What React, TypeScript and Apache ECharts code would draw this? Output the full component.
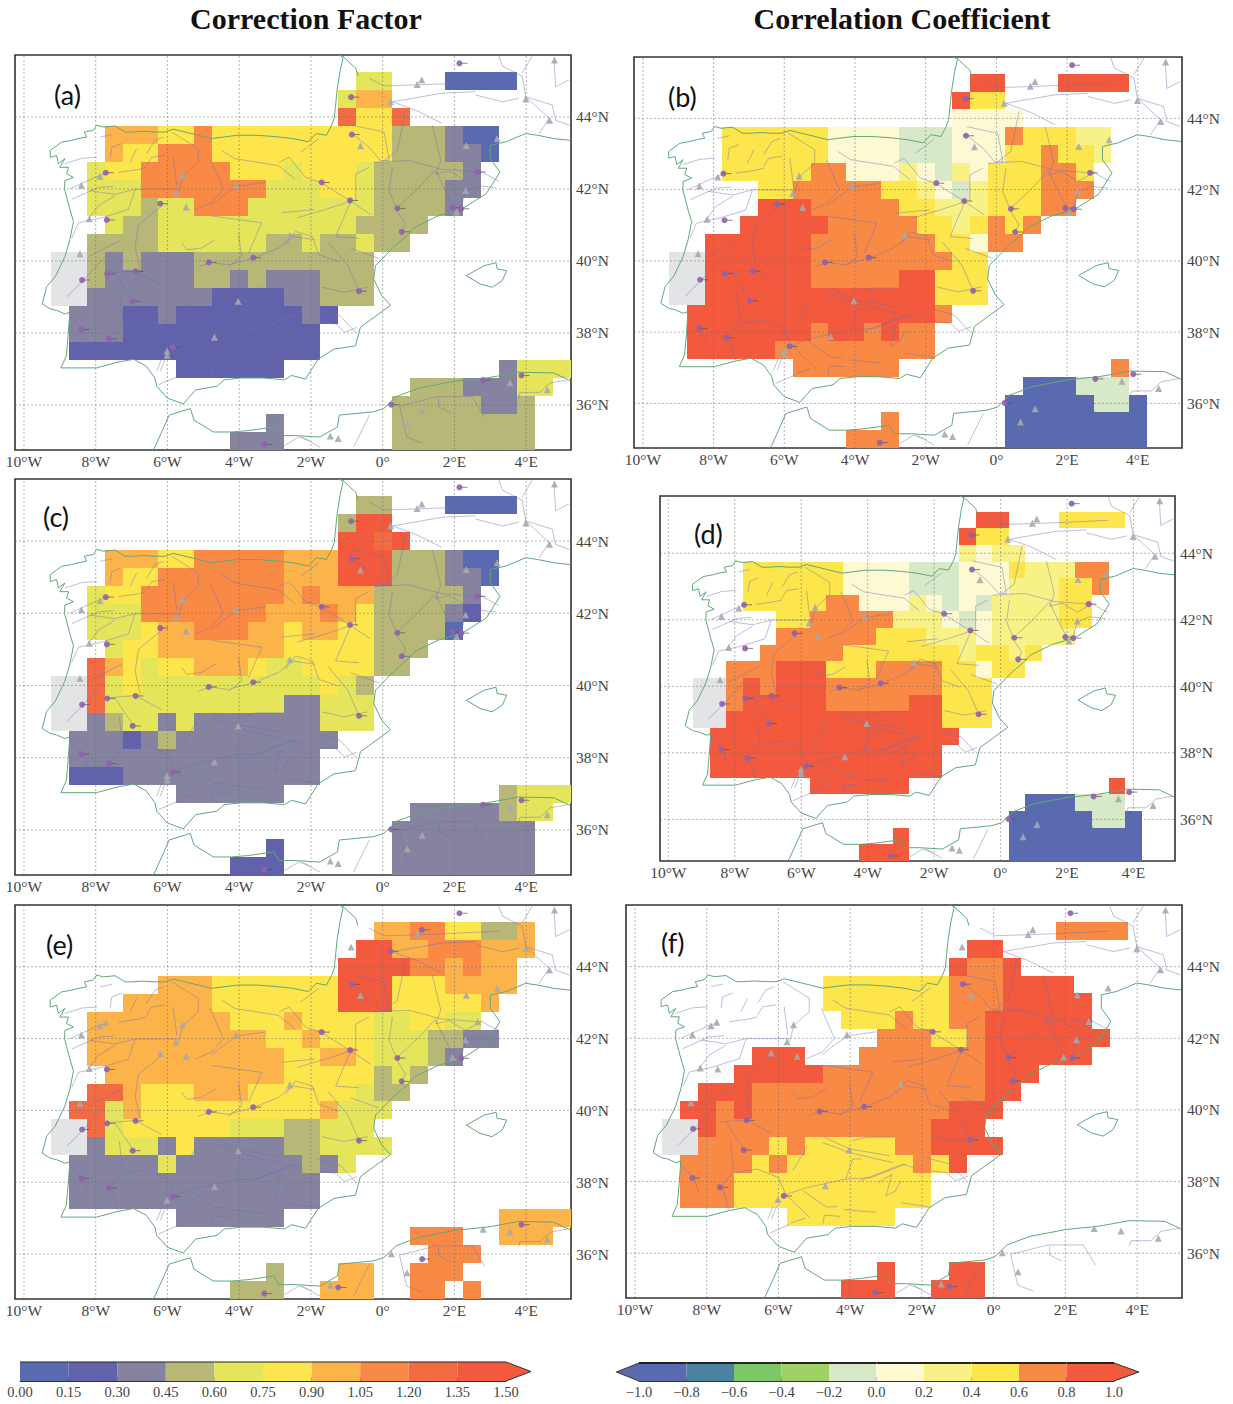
import React, { useEffect, useRef } from "react";
import * as echarts from "echarts";

const TITLES = ["Correction Factor", "Correlation Coefficient"];
const LON_TICKS = [-10, -8, -6, -4, -2, 0, 2, 4];
const LAT_TICKS = [36, 38, 40, 42, 44];

const FACTOR_COLORS = ["#5a6ab0", "#6261ac", "#85839f", "#b7b878", "#e5e55c", "#fde54c", "#fcb44a", "#f98a45", "#f36b42", "#f3593c"];
const CORR_COLORS = ["#5a6ab0", "#4a83a0", "#7ec768", "#a0d166", "#d8e9c9", "#fdf9d3", "#f8f286", "#fde54c", "#f98a45", "#f3593c"];
const MISSING_COLOR = "#e2e4e6";

const FACTOR_TICKS = [0, 0.15, 0.3, 0.45, 0.6, 0.75, 0.9, 1.05, 1.2, 1.35, 1.5];
const CORR_TICKS = [-1, -0.8, -0.6, -0.4, -0.2, 0, 0.2, 0.4, 0.6, 0.8, 1];

// Rows run from 45N to 35N by 0.5 degrees; columns count from 9W by 0.5 degrees: "columns:colour class".
const panelA = [
  "17-18:4 22-25:0", "16:4 17-18:6", "16:8 17-18:5 19:8",
  "3-5:6 6-7:5 8:7 9-18:5 19-21:3 22:2 23-24:0",
  "3:6 4-5:5 6-8:7 9-18:5 19-21:3 22-23:2 24:0",
  "2:4 3-4:5 5-9:7 10-12:5 13:4 14-16:5 17:4 18-22:3 23:2",
  "2-4:4 5-11:7 12-14:4 15-16:5 17:4 18-21:3 22-23:2",
  "2-4:4 5:3 6-7:4 8-10:7 11-17:4 18-21:3 22:2",
  "3:4 4-5:3 6-16:4 17-20:3",
  "2-5:3 6-11:4 12-13:3 14:4 15-16:3 17:4 18-19:3",
  "0-1:g 2:3 3:2 4:3 5-7:2 8-17:3",
  "0-1:g 2:3 3-7:2 8-9:3 10:2 11:3 12-14:2 15-17:3",
  "0-1:g 2-8:2 9-12:1 13-14:2 15-17:3",
  "1-3:2 4-5:1 6:2 7-13:1 14:2 15:1",
  "1-3:2 4-14:1", "1-14:1", "7-12:1 25:2 26-28:4",
  "20-22:3 23-25:2 26-27:4", "19-23:3 24-25:2 26:3", "12:2 19-26:3", "10-12:2 19-26:3",
];
const panelB = [
  "17-18:9 22-25:9", "16:9 17-18:7", "16-19:5",
  "3-8:7 9-12:5 13-15:4 16-18:5 19:8 20-22:7 23-24:6",
  "3-8:7 9-12:5 13-15:4 16-18:5 19-20:7 21:8 22-23:7 24:6",
  "3-7:7 8-9:8 10-12:5 13:6 14:5 15:4 16:6 17:5 18-20:7 21-22:8 23:7",
  "5-6:7 7-11:8 12-13:7 14:6 15:5 16:4 17:6 18-20:7 21-23:8",
  "5-7:9 8-12:8 13-14:7 15-17:6 18-20:7 21-22:8",
  "4-8:9 9-13:8 14-15:7 16:6 17:7 18:8 19:7 20:8",
  "2-7:9 8-14:8 15-16:7 17:5 18-19:8",
  "0-1:g 2-7:9 8-15:8 16-17:7",
  "0-1:g 2-7:9 8-12:8 13-14:9 15-17:7",
  "0-1:g 2-14:9 15-17:7",
  "1-14:9 15:8",
  "1-7:9 8:8 9-10:9 11:8 12:9 13-14:8",
  "1-5:9 6-14:8", "7-12:8 25:8",
  "20-22:0 23-25:4", "19-23:0 24-25:4 26:0", "12:8 19-26:0", "10-12:8 19-26:0",
];
const panelC = [
  "17-18:3 22-25:0", "16:3 17-18:9", "16-17:9 18:8 19:9",
  "3-5:6 6-7:5 8-12:7 13-15:6 16-18:9 19-21:3 22:2 23-24:0",
  "3:6 4-5:5 6-12:7 13-15:6 16-18:9 19-21:3 22-23:2 24:0",
  "2:4 3-4:5 5-12:7 13:6 14:7 15-17:6 18-22:3 23:2",
  "2-4:4 5-11:7 12-14:6 15:7 16:6 17:5 18-21:3 22:2 23:1",
  "2-4:4 5:5 6-7:6 8-10:7 11-12:6 13:5 14-15:6 16-17:5 18-21:3 22:0",
  "3:4 4-5:5 6-12:6 13-17:5 18-20:3",
  "2:8 3:6 4:5 5:4 6-7:5 8-10:6 11:5 12-13:4 14-17:5 18-19:3",
  "0-1:g 2:8 3:4 4:5 5-14:4 15:5 16:4 17:3",
  "0-1:g 2:8 3-12:4 13-14:2 15-17:4",
  "0-1:g 2:2 3:3 4-5:4 6:2 7:4 8-14:2 15-17:4",
  "1-3:2 4:1 5:2 6:3 7-15:2",
  "1-14:2", "1-3:1 4-14:2", "7-12:2 25:3 26-28:4",
  "20-24:2 25:3 26-27:4", "19-26:2", "12:1 19-26:2", "10-12:1 19-26:2",
];
const panelD = [
  "17-18:9 22-25:7", "16:9 17-18:7", "16:6 17:5 18-19:6",
  "3-8:7 9-12:5 13-15:4 16-18:5 19:7 20-22:6 23-24:8",
  "3-8:7 9-12:5 13-15:4 16-18:5 19-21:6 22-23:7 24:8",
  "3-7:7 8-9:8 10-12:5 13:6 14:5 15:4 16:5 17:4 18-21:6 22-23:7",
  "5-6:7 7-11:8 12-14:6 15:5 16:4 17:5 18-21:6 22-23:7",
  "5-10:8 11-13:7 14-16:6 17:5 18-22:6",
  "4-8:8 9-15:7 16:6 17-18:7 19:6 20:7",
  "2-4:8 5-7:9 8-10:7 11-14:8 15-16:7 17:5 18-19:7",
  "0-1:g 2:8 3:9 4:8 5-7:9 8-14:8 15-17:7",
  "0-1:g 2:8 3-7:9 8-12:8 13-14:9 15-17:7",
  "0-1:g 2-14:9 15-17:7",
  "1-15:9", "1-14:9", "1-14:9", "7-12:9 25:9",
  "20-22:0 23-25:4", "19-23:0 24-25:4 26:0", "12:9 19-26:0", "10-12:9 19-26:0",
];
const panelE = [
  "18-19:6 20-21:7 22-23:5 24-25:3 26:6",
  "17-18:9 19-20:6 21-23:7 24-26:6",
  "16-19:9 20-21:7 22:6 23:7 24-25:6",
  "6-8:6 9-15:5 16-18:9 19-21:5 22-25:6",
  "4-8:6 9-15:5 16-18:9 19-23:5 24:6",
  "2-9:6 10-12:5 13:6 14-17:5 18-19:4 20-21:5 22-23:4",
  "2-11:6 12-13:5 14:6 15-17:5 18-20:4 21-22:3 23-24:2",
  "2-12:6 13-14:5 15-16:6 17:5 18-20:4 21:3 22:2",
  "3-12:6 13-17:5 18:3 19:4 20:3",
  "2-3:8 4:6 5-7:5 8-10:6 11-16:5 17:4 18-19:3",
  "1-2:8 3:4 4:6 5-14:5 15:6 16-18:4",
  "0-1:g 2:8 3:4 4-9:5 10-12:4 13-14:3 15-17:4",
  "0-1:g 2:2 3-5:4 6:2 7:5 8-12:2 13-14:3 15-18:4",
  "1-5:2 6:4 7-13:2 14:3 15:2 16:4",
  "1-14:2", "1-14:2", "7-12:2 25-28:6",
  "20-22:7 25-27:6", "21-23:7", "12:3 16-17:6 20-22:7", "10-12:3 15-17:6 20-21:7 23:7",
];
const panelF = [
  "22-25:8", "17-18:9", "16:9 17-18:8 19:9",
  "9-15:7 16-18:8 19-22:9",
  "9-15:7 16-18:8 19-23:9",
  "10-12:7 13:8 14-15:7 16-17:8 18-23:9",
  "12-14:8 15-16:7 17:8 18-24:9",
  "5-7:9 11-17:8 18-23:9",
  "4-8:9 9-17:8 18-20:9",
  "2-4:9 5-17:8 18-19:9",
  "1-2:9 3:8 4:9 5-15:8 16-18:9",
  "0-1:g 2:9 3-14:8 15-17:9",
  "0-1:g 2-5:8 6:7 7:8 8-12:7 13-14:8 15-18:9",
  "1-4:8 5:7 6:8 7-13:7 14:8 15:7 16:9",
  "1-3:8 4-14:7", "1-3:8 4-14:7", "7-12:7", "", "", "12:9 16-17:9", "10-12:9 15-17:9",
];

const coastIberia = [
  [-1.24,45.72],[-1.1,45.67],[-1.19,45.26],[-1.27,44.75],[-1.35,43.96],[-1.43,43.75],[-1.57,43.49],[-1.85,43.54],[-2.07,43.31],[-2.51,43.4],[-2.95,43.45],[-3.5,43.49],[-4.05,43.49],[-4.77,43.4],[-5.42,43.56],[-5.84,43.66],[-6.07,43.58],[-6.35,43.58],[-6.67,43.6],[-7,43.58],[-7.18,43.58],[-7.46,43.75],[-7.79,43.72],[-7.97,43.77],[-8.07,43.63],[-8.32,43.58],[-8.25,43.44],[-8.48,43.4],[-8.67,43.35],[-8.95,43.3],[-9.27,43.07],[-9.27,42.88],[-9.09,42.93],[-9.04,42.7],[-8.86,42.84],[-9,42.6],[-8.76,42.6],[-8.81,42.42],[-8.62,42.32],[-8.86,42.23],[-8.87,42],[-8.72,41.43],[-8.62,41.1],[-8.72,40.59],[-8.86,40.12],[-9.13,39.56],[-9.37,39.28],[-9.49,38.81],[-9.27,38.67],[-9.09,38.63],[-8.86,38.53],[-8.72,38.58],[-8.77,37.92],[-8.82,37.36],[-8.97,37.03],[-7.98,37.03],[-7.38,37.19],[-6.94,37.27],[-6.59,37.08],[-6.35,36.75],[-6.3,36.52],[-6,36.19],[-5.56,36.03],[-5.21,36.42],[-4.62,36.52],[-4.42,36.7],[-3.93,36.75],[-3.33,36.75],[-2.74,36.7],[-2.54,36.82],[-2.15,36.72],[-1.8,37.27],[-1.36,37.55],[-0.76,37.64],[-0.62,38.16],[0.22,38.77],[-0.03,39.04],[-0.25,39.5],[-0.2,39.87],[0.35,40.43],[0.68,40.71],[0.9,40.94],[1.56,41.26],[2.22,41.45],[2.89,41.87],[3.27,42.47],[3,42.84],[3,43.21],[3.44,43.31],[3.99,43.54],[4.32,43.49],[4.76,43.4],[5.22,43.35],
];
const coastGironde = [[-1.1,45.67],[-0.75,45.35],[-0.69,45.15]];
const coastAfrica = [
  [-6.42,34.75],[-6.35,34.83],[-5.95,35.72],[-5.36,35.9],[-5.26,35.58],[-4.72,35.25],[-4.22,35.25],[-3.73,35.29],[-3.04,35.39],[-2.89,35.15],[-2.44,35.15],[-1.75,35.11],[-1.26,35.39],[-1.21,35.72],[-0.27,35.81],[0.03,35.9],[0.37,36.23],[1.01,36.47],[2,36.66],[2.89,36.75],[3.19,36.8],[3.78,36.91],[4.77,36.89],[5.22,36.68],
];
const coastMallorca = [[2.33,39.59],[2.83,39.87],[3.16,39.95],[3.19,39.78],[3.46,39.73],[3.33,39.45],[3.05,39.27],[2.72,39.36],[2.33,39.59]];

const rivers = [
  [[-8.86,42.7],[-8.39,42.85],[-7.97,42.88]],
  [[-7.88,43.44],[-7.55,43.51]],
  [[-7.6,42.84],[-7.55,43.16],[-7.28,43.26]],
  [[-7.04,42.74],[-6.86,43.12]],
  [[-6.58,42.98],[-6.35,43.35],[-6.11,43.44]],
  [[-6.58,42.65],[-6.44,42.88],[-6.07,42.93]],
  [[-7.37,42.46],[-6.81,42.54],[-6.58,42.6]],
  [[-8.72,42],[-8.02,42.32],[-7.69,42.44]],
  [[-8.67,41.71],[-7.93,42.04],[-7.51,42.07]],
  [[-8.16,41.95],[-7.46,41.85],[-6.9,41.99],[-5.7,41.99]],
  [[-5.88,43.58],[-5.14,43.12],[-5.14,42.74],[-5.56,42.37],[-5.7,41.9]],
  [[-5.84,42.88],[-5.74,42.09]],
  [[-4.81,42.84],[-4.44,42],[-4.77,41.62],[-5.23,41.43]],
  [[-3.28,42.18],[-4.07,42.07],[-4.58,41.71],[-4.77,41.54]],
  [[-8.67,40.64],[-8.48,41.06],[-7.83,41.2],[-7.09,41.43],[-6.9,41.99]],
  [[-8.25,41.1],[-7.93,41.53],[-7.46,41.81]],
  [[-6.16,41.53],[-6.81,41],[-6.9,40.4],[-6.76,39.75]],
  [[-8.2,40.12],[-7.28,40.59]],
  [[-8.81,39],[-8.34,39.47],[-7.74,40.12]],
  [[-7.65,39.66],[-6.9,39.72]],
  [[-7.46,39.66],[-7.18,39.23],[-6.95,38.9]],
  [[-6.9,39.72],[-6.16,39.33]],
  [[-5.6,40.5],[-5.46,40.31],[-5.05,40.36],[-4.67,40.59]],
  [[-4.02,40.78],[-3.93,40.12],[-4.3,39.84]],
  [[-5.14,39.84],[-4.81,39.96],[-4.3,39.89],[-3.6,40.08],[-2.9,40.36],[-2.54,40.68],[-1.89,40.59]],
  [[-4.77,41.25],[-3.37,41.06],[-3.74,40.22]],
  [[-2.82,41.34],[-1.89,41.43]],
  [[-4.49,43.07],[-4.12,42.84],[-2.91,42.65],[-2.44,42.27]],
  [[-4.77,39.09],[-4.02,38.81],[-2.82,38.53]],
  [[-0.38,45.08],[0.04,44.86],[1.76,44.92],[3.24,44.99]],
  [[0.27,44.42],[0.92,44.19],[1.66,43.82]],
  [[2.59,44.61],[3.34,44.42],[3.8,44.52]],
  [[0.27,44.42],[1.66,44.66],[2.59,44.7]],
  [[3.24,45.69],[3.34,45.41],[3.89,45.13],[3.99,44.56],[4.73,44.33],[4.82,43.91],[5.2,43.77]],
  [[4.17,45.69],[3.89,45.22]],
  [[4.78,45.59],[4.82,44.84],[5.2,45.03]],
  [[3.99,44.56],[4.64,43.96],[4.36,43.53]],
  [[0.64,44.19],[0.41,43.07],[0.04,42.79]],
  [[1.38,43.77],[1.62,42.79],[1.48,42.41],[1.85,42.5],[2.31,42.23],[2.78,42.5]],
  [[-0.24,42.74],[0.73,42.79],[1.62,42.55],[2.78,42.46],[3.24,42.22]],
  [[0.36,41.52],[0.18,41.94],[0.27,42.6]],
  [[0.41,41.48],[1.01,42.04],[1.48,42.55]],
  [[1.99,41.48],[1.48,42.5]],
  [[2.17,41.43],[2.31,41.94],[2.68,42.09],[3.15,42.04]],
  [[0.41,41.38],[0.64,41.01],[0.5,40.78]],
  [[-0.85,43.53],[-0.38,43.16],[-0.06,42.79],[0.18,42.79],[0.04,43.58],[-0.85,43.77]],
  [[-2.29,43.02],[-1.78,43.4]],
  [[-2.89,42.74],[-2.61,42.88],[-2.15,42.32],[-1.73,42.18],[-0.89,41.66],[-0.34,41.29]],
  [[-2.38,41.2],[-1.59,41.43],[-0.89,41.66],[-1.31,40.68],[-0.66,40.63]],
  [[-0.89,40.35],[-0.38,40.17],[-0.1,40.07]],
  [[-2.71,40.45],[-2.43,40.82],[-1.96,40.68],[-1.78,40.17],[-1.22,39.98]],
  [[-0.38,42.6],[-0.75,42.41],[-0.75,41.66]],
  [[-8.77,38.53],[-8.37,38.11],[-8.22,37.69]],
  [[-7.58,37.88],[-7.38,37.22]],
  [[-7.58,37.88],[-7.24,38.3],[-7.29,38.67],[-7.34,39.14]],
  [[-7.19,38.25],[-6.59,38.35],[-6,38.11],[-5.8,37.64]],
  [[-5.8,37.64],[-5.21,37.83],[-4.12,38.07],[-3.43,38.11],[-2.44,38.49]],
  [[-5.8,37.64],[-5.11,36.98]],
  [[-5.31,37.74],[-4.67,37.29],[-4.37,37.3]],
  [[-5.66,36.84],[-5.26,36.98]],
  [[-4.77,36.8],[-4.72,37.06],[-4.27,37.03]],
  [[-4.17,37.22],[-3.28,37.14]],
  [[-2.59,37.41],[-1.8,37.29]],
  [[-4.12,38.07],[-3.93,38.63],[-3.68,38.63]],
  [[-3.23,37.97],[-2.84,38.2],[-3,37.6],[-2.74,37.74],[-2.59,38.02]],
  [[-3.73,38.02],[-2.54,38.49],[-2.24,38.39]],
  [[-5.6,38.3],[-5.21,38.96]],
  [[-4.72,39.24],[-4.02,38.91],[-2.89,38.72]],
  [[-3.93,39.14],[-3.53,39.24],[-2.74,39.24]],
  [[-1.75,38.3],[-1.31,38.25],[-1.06,38.02],[-0.71,38.16]],
  [[-6.3,36.94],[-6.15,37.31]],
  [[-6.2,36.94],[-6.05,37.31]],
  [[0.47,35.97],[0.67,35.11],[1.11,34.94]],
  [[0.47,35.97],[1.51,36.23],[2.5,36.23],[2.84,35.67]],
  [[1.56,36.19],[1.56,35.95],[1.9,35.78]],
  [[3.78,36.19],[3.83,36.35],[4.38,36.35],[4.67,36.61],[5.17,36.7]],
  [[-0.81,34.83],[-0.37,35.72]],
  [[-2.74,34.87],[-2.34,35.11],[-2.05,35.01]],
  [[-2.25,35.11],[-1.75,34.83]],
  [[-6.25,36.56],[-5.7,36.8]],
  [[-1.69,39.27],[-1.08,39.13],[-0.42,39.27]],
  [[-0.66,39.16],[-0.97,39.87],[-1.52,40.52]],
  [[-1.85,38.66],[-1.19,38.48],[-0.75,38.01]],
];

const stationsMain = [
  [2.14,45.49],[-0.88,44.55],[-0.86,43.51],[-7.72,42.45],[-1.7,42.18],[-0.91,41.68],[-6.2,41.59],[0.41,41.46],[1.95,41.48],[2.19,41.45],[-7.69,41.14],[0.53,40.81],[-4.85,39.96],[-3.61,40.09],[-7.68,39.64],[-6.89,39.71],[-8.38,39.47],[-6.97,38.88],[-0.66,39.16],[-8.4,38.1],[-7.63,37.84],[-5.85,37.6],[-3.3,34.9],[2.8,36.69],[3.87,36.82],[0.24,36.01],[2.65,42.47],
];
const trianglesMain = [
  [4.79,45.58],[1.09,45.03],[0.96,44.9],[3.99,44.5],[0.22,44.42],[4.65,43.91],[3.19,43.4],[2.33,43.21],[-0.62,43.2],[-5.58,42.38],[-7.88,42.35],[-8.4,42.1],[-5.76,41.9],[-4.09,42.1],[-5.48,41.5],[-8.18,41.17],[-2.59,40.71],[-8.44,40.2],[-4.03,38.88],[-4.69,37.88],[-6.01,37.5],[-6.01,37.38],[3.55,36.62],[4.59,36.42],[1.1,35.85],[0.68,35.48],[-1.46,35.14],[-1.24,35.07],[2.31,41.96],[2.06,41.36],
];
const stationsLower = [
  [2.14,45.49],[-0.86,43.51],[-1.7,42.18],[-0.91,41.68],[0.41,41.46],[2.19,41.45],[0.53,40.81],[-4.85,39.96],[-3.61,40.09],[-6.89,39.71],[-8.38,39.47],[-6.97,38.88],[-0.66,39.16],[-8.4,38.1],[-7.63,37.84],[-5.85,37.6],[-3.3,34.9],[-1.24,35.07],
];
const trianglesLower = [
  [4.79,45.58],[0.96,44.9],[-0.88,44.55],[3.99,44.5],[4.65,43.91],[3.19,43.4],[2.33,43.21],[-0.62,43.2],[-5.58,42.38],[-7.72,42.45],[-7.88,42.35],[-8.4,42.1],[-5.76,41.9],[-4.09,42.1],[-6.2,41.59],[-5.48,41.5],[-8.18,41.17],[-2.59,40.71],[-8.44,40.2],[-4.03,38.88],[-4.69,37.88],[-6.01,37.5],[3.55,36.62],[4.59,36.42],[2.8,36.69],[0.24,36.01],[0.68,35.48],[-1.46,35.14],[2.65,42.47],[1.95,41.48],[2.31,41.96],
];
const stationsOnlyE = [[1.09,45.03],[0.22,44.43],[-7.69,41.14],[-7.68,39.64],[3.87,36.82],[1.1,35.86]];
const trianglesOnlyF = [[1.09,45.03],[-7.69,41.14]];

const PANELS = [
  { tag: "(a)", rows: panelA, colors: FACTOR_COLORS, box: [15, 55, 556, 395], tagAt: [54, 94], circles: stationsMain, triangles: trianglesMain },
  { tag: "(b)", rows: panelB, colors: CORR_COLORS, box: [634, 57, 548, 391], tagAt: [668, 96], circles: stationsMain, triangles: trianglesMain },
  { tag: "(c)", rows: panelC, colors: FACTOR_COLORS, box: [15, 479, 556, 396], tagAt: [43, 516], circles: stationsMain, triangles: trianglesMain },
  { tag: "(d)", rows: panelD, colors: CORR_COLORS, box: [660, 496, 515, 365], tagAt: [694, 533], circles: stationsMain, triangles: trianglesMain },
  { tag: "(e)", rows: panelE, colors: FACTOR_COLORS, box: [15, 905, 556, 394], tagAt: [46, 944], circles: stationsLower.concat(stationsOnlyE), triangles: trianglesLower },
  { tag: "(f)", rows: panelF, colors: CORR_COLORS, box: [626, 905, 556, 393], tagAt: [661, 942], circles: stationsLower, triangles: trianglesLower.concat(trianglesOnlyF) },
];

const SERIF = "'Liberation Serif', 'Times New Roman', serif";
const LABEL_COLOR = "#444";
const LON_MIN = -10.25, LON_MAX = 5.25, LAT_MIN = 34.75, LAT_MAX = 45.72;

function parseRows(rows: string[]) {
  const out: number[][] = [];
  rows.forEach((row, r) => {
    const lat = 45 - 0.5 * r;
    row.split(" ").filter(Boolean).forEach((run) => {
      const [span, level] = run.split(":");
      const [a, b] = span.split("-").map(Number);
      for (let c = a; c <= (b === undefined ? a : b); c++) {
        out.push([-9 + 0.5 * c, lat, level === "g" ? -1 : Number(level)]);
      }
    });
  });
  return out;
}

function joinLines(lines: number[][][]) {
  const out: any[] = [];
  lines.forEach((l, i) => {
    if (i) out.push(["-", "-"]);
    l.forEach((p) => out.push(p));
  });
  return out;
}

const graticule = [
  ...LON_TICKS.map((lon) => [[lon, LAT_MIN], [lon, LAT_MAX]]),
  ...LAT_TICKS.map((lat) => [[LON_MIN, lat], [LON_MAX, lat]]),
];

const lonLabel = (v: number) => (v === 0 ? "0°" : `${Math.abs(v)}°${v < 0 ? "W" : "E"}`);

function buildOption() {
  const grid: any[] = [];
  const xAxis: any[] = [];
  const yAxis: any[] = [];
  const series: any[] = [];
  const graphic: any[] = [];

  TITLES.forEach((t, i) => {
    graphic.push({
      type: "text", x: i === 0 ? 306 : 902, y: 18,
      style: { text: t, font: `bold 30px ${SERIF}`, fill: "#111", textAlign: "center", textVerticalAlign: "middle" },
    });
  });

  PANELS.forEach((p, i) => {
    const [left, top, width, height] = p.box;
    grid.push({ left, top, width, height, show: true, borderColor: "#333", borderWidth: 1.6, backgroundColor: "#fff" });
    xAxis.push({
      gridIndex: i, type: "value", min: LON_MIN, max: LON_MAX, position: "bottom",
      axisLine: { show: false }, axisTick: { show: false, customValues: LON_TICKS }, splitLine: { show: false },
      axisLabel: { customValues: LON_TICKS, formatter: lonLabel, margin: 3, fontFamily: SERIF, fontSize: 15.5, color: LABEL_COLOR },
    });
    yAxis.push({
      gridIndex: i, type: "value", min: LAT_MIN, max: LAT_MAX, position: "right",
      axisLine: { show: false }, axisTick: { show: false, customValues: LAT_TICKS }, splitLine: { show: false },
      axisLabel: { customValues: LAT_TICKS, formatter: (v: number) => `${v}°N`, margin: 5, fontFamily: SERIF, fontSize: 15.5, color: LABEL_COLOR },
    });
    const colors = p.colors;
    series.push({
      type: "custom", xAxisIndex: i, yAxisIndex: i, z: 2, silent: true,
      data: parseRows(p.rows), encode: { x: 0, y: 1 },
      renderItem: (_: any, api: any) => {
        const lon = api.value(0), lat = api.value(1), lvl = api.value(2);
        const a = api.coord([lon - 0.25, lat + 0.25]);
        const b = api.coord([lon + 0.25, lat - 0.25]);
        const x = Math.round(a[0]), y = Math.round(a[1]);
        return {
          type: "rect",
          shape: { x, y, width: Math.round(b[0]) - x, height: Math.round(b[1]) - y },
          style: { fill: lvl < 0 ? MISSING_COLOR : colors[lvl] },
        };
      },
    });
    series.push({
      type: "line", xAxisIndex: i, yAxisIndex: i, z: 3, silent: true, symbol: "none",
      data: joinLines(graticule), lineStyle: { color: "rgba(110,110,110,0.65)", width: 0.8, type: [2, 2] },
    });
    series.push({
      type: "line", xAxisIndex: i, yAxisIndex: i, z: 3, silent: true, symbol: "none",
      data: joinLines(rivers), lineStyle: { color: "rgba(110,110,180,0.5)", width: 0.9 },
    });
    series.push({
      type: "line", xAxisIndex: i, yAxisIndex: i, z: 4, silent: true, symbol: "none",
      data: joinLines([coastIberia, coastGironde, coastAfrica, coastMallorca]), lineStyle: { color: "#62a878", width: 1 },
    });
    series.push({
      type: "scatter", xAxisIndex: i, yAxisIndex: i, z: 5, silent: true, symbol: "triangle", symbolSize: 7,
      data: p.triangles, itemStyle: { color: "#a9a9a9", opacity: 0.9 },
    });
    series.push({
      type: "custom", xAxisIndex: i, yAxisIndex: i, z: 6, silent: true,
      data: p.circles, encode: { x: 0, y: 1 },
      renderItem: (_: any, api: any) => {
        const c = api.coord([api.value(0), api.value(1)]);
        return {
          type: "group",
          children: [
            { type: "line", shape: { x1: c[0], y1: c[1], x2: c[0] + 8, y2: c[1] }, style: { stroke: "#555", lineWidth: 0.7 } },
            { type: "circle", shape: { cx: c[0], cy: c[1], r: 3 }, style: { fill: "#8f62ab", opacity: 0.9 } },
          ],
        };
      },
    });
    graphic.push({
      type: "text", x: p.tagAt[0], y: p.tagAt[1],
      style: { text: p.tag, font: "27px Lato, 'Open Sans', sans-serif", fill: "#111", textAlign: "left", textVerticalAlign: "middle" },
    });
  });

  const bars = [
    { ticks: FACTOR_TICKS, colors: FACTOR_COLORS, box: [20, 1362, 486, 19], min: 0, max: 1.5, step: 0.15, digits: 2, arrows: [[1.5, 1.577, 9]] },
    { ticks: CORR_TICKS, colors: CORR_COLORS, box: [639, 1363, 475, 18], min: -1, max: 1, step: 0.2, digits: 1, arrows: [[1, 1.105, 9], [-1, -1.095, 0]] },
  ];
  bars.forEach((b, k) => {
    const i = PANELS.length + k;
    const [left, top, width, height] = b.box;
    grid.push({ left, top, width, height, show: false });
    xAxis.push({
      gridIndex: i, type: "value", min: b.min, max: b.max, interval: b.step, position: "bottom",
      axisLine: { show: true, lineStyle: { color: "#333", width: 1 } }, splitLine: { show: false },
      axisTick: { show: true, inside: true, length: 4, lineStyle: { color: "#333", width: 1 } },
      axisLabel: {
        margin: 3, fontFamily: SERIF, fontSize: 14.5, color: LABEL_COLOR, showMinLabel: true, showMaxLabel: true, hideOverlap: false,
        formatter: (v: number) => (Math.abs(v) < 1e-9 ? (0).toFixed(b.digits) : v.toFixed(b.digits).replace("-", "\u2212")),
      },
    });
    yAxis.push({ gridIndex: i, type: "value", min: 0, max: 1, show: false });
    const binData = b.ticks.slice(0, -1).map((t, j) => [t, b.ticks[j + 1], j]);
    series.push({
      type: "custom", xAxisIndex: i, yAxisIndex: i, z: 2, silent: true, data: binData, encode: { x: [0, 1] },
      renderItem: (_: any, api: any) => {
        const p0 = api.coord([api.value(0), 1]);
        const p1 = api.coord([api.value(1), 0]);
        return {
          type: "group",
          children: [
            { type: "rect", shape: { x: p0[0], y: p0[1], width: p1[0] - p0[0], height: p1[1] - p0[1] }, style: { fill: b.colors[api.value(2)] } },
            { type: "line", shape: { x1: p0[0], y1: p0[1], x2: p1[0], y2: p0[1] }, style: { stroke: "#222", lineWidth: k === 1 ? 2 : 1.2 } },
          ],
        };
      },
    });
    series.push({
      type: "custom", xAxisIndex: i, yAxisIndex: i, z: 3, silent: true, data: b.arrows, encode: { x: [0, 1] },
      renderItem: (_: any, api: any) => {
        const pts = [api.coord([api.value(0), 1]), api.coord([api.value(1), 0.5]), api.coord([api.value(0), 0])];
        return {
          type: "group",
          children: [
            { type: "polygon", shape: { points: pts }, style: { fill: b.colors[api.value(2)] } },
            { type: "polyline", shape: { points: pts }, style: { fill: "none", stroke: "#333", lineWidth: 1 } },
          ],
        };
      },
    });
  });

  return { animation: false, backgroundColor: "#fff", grid, xAxis, yAxis, series, graphic };
}

export default function App() {
  const ref = useRef<HTMLDivElement>(null);
  useEffect(() => {
    document.body.style.margin = "0";
    const chart = echarts.init(ref.current!, undefined, { renderer: "svg" });
    chart.setOption(buildOption() as any);
    return () => chart.dispose();
  }, []);
  return <div ref={ref} style={{ width: 1233, height: 1404 }} />;
}
